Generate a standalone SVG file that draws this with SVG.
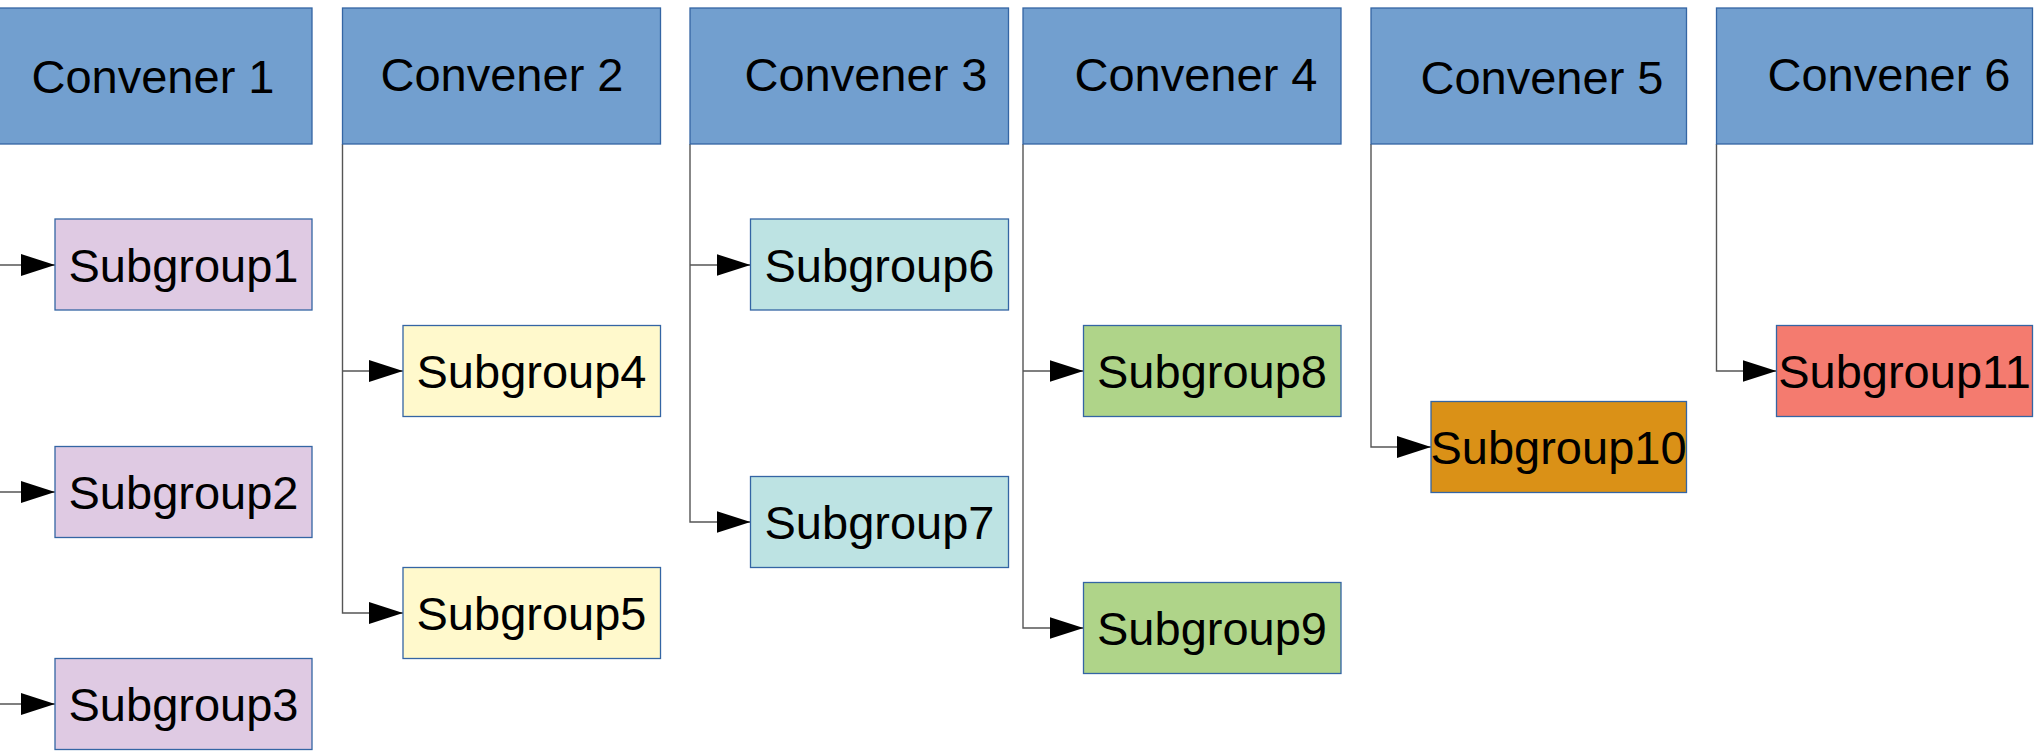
<svg xmlns="http://www.w3.org/2000/svg" width="2044" height="752" viewBox="0 0 2044 752">
<style>
.box{stroke:#3465a4;stroke-width:1.3}
.conv{fill:#729fcf}
.t{font-family:"Liberation Sans",Arial,sans-serif;font-size:47px;fill:#000;text-anchor:middle}
.c{fill:none;stroke:#555;stroke-width:1.4}
</style>
<defs>
<marker id="arr" viewBox="0 0 34 22" refX="34" refY="11" markerWidth="34" markerHeight="22" markerUnits="userSpaceOnUse" orient="auto">
<path d="M0,0 L34,11 L0,22 Z" fill="#000"/>
</marker>
</defs>
<rect width="2044" height="752" fill="#fff"/>
<g id="connectors">
<path class="c" d="M-6,144 V704 M-6,265 H55" marker-end="url(#arr)"/>
<path class="c" d="M-6,492 H55" marker-end="url(#arr)"/>
<path class="c" d="M-6,704 H55" marker-end="url(#arr)"/>
<path class="c" d="M342.5,144 V613 H403" marker-end="url(#arr)"/>
<path class="c" d="M342.5,371 H403" marker-end="url(#arr)"/>
<path class="c" d="M690,144 V522 H750.5" marker-end="url(#arr)"/>
<path class="c" d="M690,265 H750.5" marker-end="url(#arr)"/>
<path class="c" d="M1023,144 V628 H1083.5" marker-end="url(#arr)"/>
<path class="c" d="M1023,371 H1083.5" marker-end="url(#arr)"/>
<path class="c" d="M1371,144 V447 H1431" marker-end="url(#arr)"/>
<path class="c" d="M1716.5,144 V371 H1776.5" marker-end="url(#arr)"/>
</g>
<g id="convener1"><rect class="box conv" x="-6" y="8" width="318" height="136"/><text class="t" x="153" y="93">Convener 1</text></g>
<g id="convener2"><rect class="box conv" x="342.5" y="8" width="318" height="136"/><text class="t" x="502" y="91">Convener 2</text></g>
<g id="convener3"><rect class="box conv" x="690" y="8" width="318.5" height="136"/><text class="t" x="866" y="91">Convener 3</text></g>
<g id="convener4"><rect class="box conv" x="1023" y="8" width="318" height="136"/><text class="t" x="1196" y="91">Convener 4</text></g>
<g id="convener5"><rect class="box conv" x="1371" y="8" width="315.5" height="136"/><text class="t" x="1542" y="94">Convener 5</text></g>
<g id="convener6"><rect class="box conv" x="1716.5" y="8" width="316" height="136"/><text class="t" x="1889" y="91">Convener 6</text></g>
<g id="subgroup1"><rect class="box" fill="#dfcae3" x="55" y="219" width="257" height="91"/><text class="t" x="183.5" y="281.5">Subgroup1</text></g>
<g id="subgroup2"><rect class="box" fill="#dfcae3" x="55" y="446.5" width="257" height="91"/><text class="t" x="183.5" y="508.5">Subgroup2</text></g>
<g id="subgroup3"><rect class="box" fill="#dfcae3" x="55" y="658.5" width="257" height="91"/><text class="t" x="183.5" y="720.5">Subgroup3</text></g>
<g id="subgroup4"><rect class="box" fill="#fff9cc" x="403" y="325.5" width="257.5" height="91"/><text class="t" x="531.5" y="387.5">Subgroup4</text></g>
<g id="subgroup5"><rect class="box" fill="#fff9cc" x="403" y="567.5" width="257.5" height="91"/><text class="t" x="531.5" y="629.5">Subgroup5</text></g>
<g id="subgroup6"><rect class="box" fill="#bde3e3" x="750.5" y="219" width="258" height="91"/><text class="t" x="879.5" y="281.5">Subgroup6</text></g>
<g id="subgroup7"><rect class="box" fill="#bde3e3" x="750.5" y="476.5" width="258" height="91"/><text class="t" x="879.5" y="538.5">Subgroup7</text></g>
<g id="subgroup8"><rect class="box" fill="#afd489" x="1083.5" y="325.5" width="257.5" height="91"/><text class="t" x="1212" y="387.5">Subgroup8</text></g>
<g id="subgroup9"><rect class="box" fill="#afd489" x="1083.5" y="582.5" width="257.5" height="91"/><text class="t" x="1212" y="644.5">Subgroup9</text></g>
<g id="subgroup10"><rect class="box" fill="#da9117" x="1431" y="401.5" width="255.5" height="91"/><text class="t" x="1558.5" y="463.5">Subgroup10</text></g>
<g id="subgroup11"><rect class="box" fill="#f47b6f" x="1776.5" y="325.5" width="256" height="91"/><text class="t" x="1904.5" y="387.5">Subgroup11</text></g>
</svg>
